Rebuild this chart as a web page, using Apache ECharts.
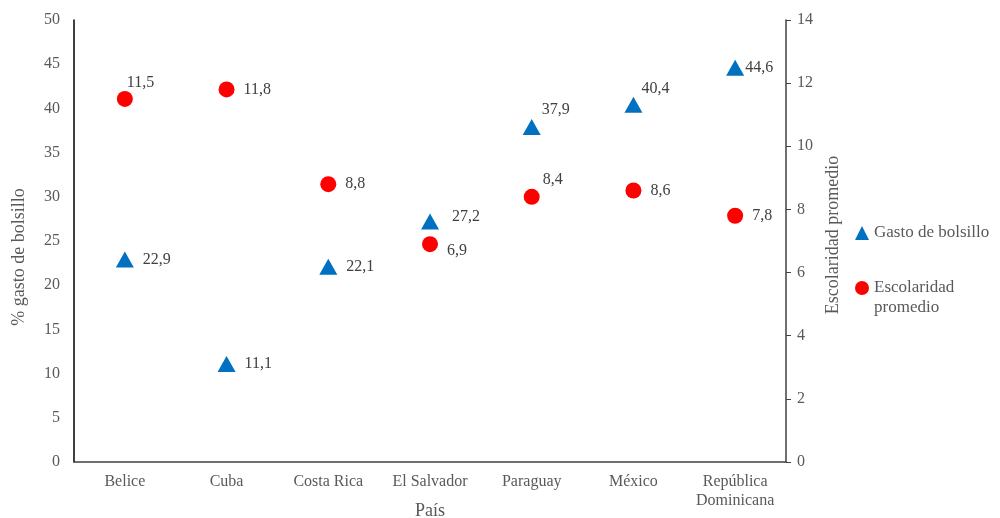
<!DOCTYPE html>
<html>
<head>
<meta charset="utf-8">
<script src="https://cdn.jsdelivr.net/npm/echarts@6/dist/echarts.min.js"></script>
<style>
  html, body { margin: 0; padding: 0; background: #fff; }
  #main { width: 1000px; height: 518px; }
</style>
</head>
<body>
<div id="main"></div>
<script>
// datos
var paises = ['Belice', 'Cuba', 'Costa Rica', 'El Salvador', 'Paraguay', 'México', 'República Dominicana'];
var gastoBolsillo = [22.9, 11.1, 22.1, 27.2, 37.9, 40.4, 44.6];
var escolaridad = [11.5, 11.8, 8.8, 6.9, 8.4, 8.6, 7.8];
var ticksIzq = [0, 5, 10, 15, 20, 25, 30, 35, 40, 45, 50];
var ticksDer = [0, 2, 4, 6, 8, 10, 12, 14];

var fuente = '"Liberation Serif", "DejaVu Serif", serif';
var gris = '#595959';

// desplazamiento de algunas etiquetas (el resto va a la derecha)
var offGasto = { 'El Salvador': [4, -5], 'Paraguay': [-8, -17], 'México': [-10, -16], 'República Dominicana': [-8, 0] };
var offEsc = { 'Belice': [-15, -16], 'El Salvador': [0, 7], 'Paraguay': [-6, -17] };

function coma(v) { return String(v).replace('.', ','); }

function conEtiquetas(valores, offs) {
  return valores.map(function (v, i) {
    var d = { value: v };
    if (offs[paises[i]]) d.label = { offset: offs[paises[i]] };
    return d;
  });
}

var myChart = echarts.init(document.getElementById('main'));
var option = {
  textStyle: { fontFamily: fuente },
  grid: { left: 74, right: 214, top: 20, bottom: 56, outerBoundsMode: 'none', containLabel: false },
  legend: {
    orient: 'vertical',
    left: 850,
    top: 218,
    itemGap: 15,
    itemWidth: 14,
    itemHeight: 14,
    textStyle: { fontFamily: fuente, fontSize: 17, color: gris, lineHeight: 20 },
    // línea vacía al inicio para que el icono quede a la altura de "Escolaridad"
    formatter: function (n) { return n === 'Escolaridad promedio' ? '\nEscolaridad\npromedio' : n; },
    data: [
      { name: 'Gasto de bolsillo', icon: 'triangle' },
      { name: 'Escolaridad promedio', icon: 'circle' }
    ]
  },
  xAxis: {
    type: 'category',
    data: paises,
    boundaryGap: true,
    name: 'País',
    nameLocation: 'middle',
    nameGap: 40,
    nameMoveOverlap: false,
    nameTextStyle: { fontFamily: fuente, fontSize: 18, color: gris },
    axisLine: { lineStyle: { color: '#404040', width: 1.5 } },
    axisTick: { show: false },
    axisLabel: {
      interval: 0,
      margin: 10,
      fontFamily: fuente, fontSize: 16, color: gris, lineHeight: 19,
      formatter: function (v) { return v.replace('República ', 'República\n'); }
    }
  },
  yAxis: [
    {
      type: 'value',
      min: ticksIzq[0], max: ticksIzq[ticksIzq.length - 1], interval: 5,
      name: '% gasto de bolsillo',
      nameLocation: 'middle',
      nameRotate: 90,
      nameGap: 46,
      nameMoveOverlap: false,
      nameTextStyle: { fontFamily: fuente, fontSize: 18, color: gris, padding: [0, 32, 0, 0] },
      axisLine: { show: true, lineStyle: { color: '#000', width: 1.5 } },
      axisTick: { show: false },
      splitLine: { show: false },
      axisLabel: { fontFamily: fuente, fontSize: 16, color: gris, margin: 14 }
    },
    {
      type: 'value',
      position: 'right',
      min: ticksDer[0], max: ticksDer[ticksDer.length - 1], interval: 2,
      name: 'Escolaridad promedio',
      nameLocation: 'middle',
      nameRotate: 90,
      nameGap: 38,
      nameMoveOverlap: false,
      nameTextStyle: { fontFamily: fuente, fontSize: 18, color: gris, padding: [0, 0, 0, 12] },
      axisLine: { show: true, lineStyle: { color: '#404040', width: 1.5 } },
      axisTick: { show: true, length: 5, lineStyle: { color: '#404040' } },
      splitLine: { show: false },
      axisLabel: { fontFamily: fuente, fontSize: 16, color: gris, margin: 11 }
    }
  ],
  series: [
    {
      name: 'Gasto de bolsillo',
      type: 'scatter',
      yAxisIndex: 0,
      symbol: 'triangle',
      symbolSize: [18, 16],
      itemStyle: { color: '#0070c0', opacity: 1 },
      label: {
        show: true, position: 'right', distance: 9,
        fontFamily: fuente, fontSize: 16, color: '#404040',
        formatter: function (p) { return coma(p.value); }
      },
      data: conEtiquetas(gastoBolsillo, offGasto)
    },
    {
      name: 'Escolaridad promedio',
      type: 'scatter',
      yAxisIndex: 1,
      symbol: 'circle',
      symbolSize: 16,
      itemStyle: { color: '#ff0000', opacity: 1 },
      label: {
        show: true, position: 'right', distance: 9,
        fontFamily: fuente, fontSize: 16, color: '#404040',
        formatter: function (p) { return coma(p.value); }
      },
      data: conEtiquetas(escolaridad, offEsc)
    }
  ]
};
myChart.setOption(option);
</script>
</body>
</html>
